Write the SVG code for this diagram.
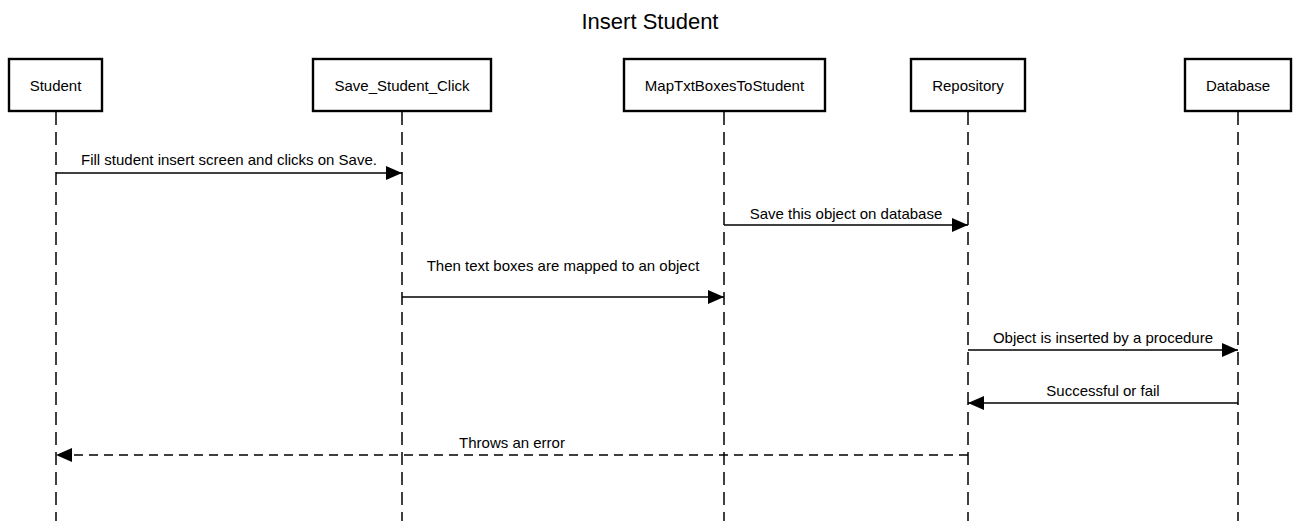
<svg xmlns="http://www.w3.org/2000/svg" width="1300" height="521" viewBox="0 0 1300 521">
<style>
text{font-family:"Liberation Sans",Arial,Helvetica,sans-serif;fill:#000;}
.title{font-size:22px;text-anchor:middle;}
.box{fill:#fff;stroke:#000;stroke-width:2.4;}
.lbl{font-size:15px;text-anchor:middle;}
.life{stroke:#000;stroke-width:1.5;stroke-dasharray:13,7;fill:none;}
.msg{stroke:#000;stroke-width:1.4;fill:none;}
.ret{stroke:#000;stroke-width:1.4;fill:none;stroke-dasharray:9,6;}
.mlbl{font-size:15px;text-anchor:middle;}
</style>
<defs>
<marker id="ah" viewBox="0 0 16 14" refX="16" refY="7" markerWidth="16" markerHeight="14" markerUnits="userSpaceOnUse" orient="auto">
<path d="M0,0 L16,7 L0,14 z" fill="#000"/>
</marker>
</defs>
<rect width="1300" height="521" fill="#fff"/>
<text class="title" x="650" y="29">Insert Student</text>
<g id="lifelines">
<line class="life" x1="56" y1="112" x2="56" y2="521"/>
<line class="life" x1="402" y1="112" x2="402" y2="521"/>
<line class="life" x1="724" y1="112" x2="724" y2="521"/>
<line class="life" x1="968" y1="112" x2="968" y2="521"/>
<line class="life" x1="1238" y1="112" x2="1238" y2="521"/>
</g>
<g id="node-student"><rect class="box" x="9" y="59" width="93" height="52"/><text class="lbl" x="55.5" y="91">Student</text></g>
<g id="node-save"><rect class="box" x="313" y="59" width="178" height="52"/><text class="lbl" x="402" y="91">Save_Student_Click</text></g>
<g id="node-map"><rect class="box" x="624" y="59" width="201" height="52"/><text class="lbl" x="724.5" y="91">MapTxtBoxesToStudent</text></g>
<g id="node-repo"><rect class="box" x="911" y="59" width="114" height="52"/><text class="lbl" x="968" y="91">Repository</text></g>
<g id="node-db"><rect class="box" x="1185" y="59" width="106" height="52"/><text class="lbl" x="1238" y="91">Database</text></g>
<g id="connectors">
<line class="msg" x1="56" y1="173" x2="402" y2="173" marker-end="url(#ah)"/>
<text class="mlbl" x="229" y="165">Fill student insert screen and clicks on Save.</text>
<line class="msg" x1="724" y1="225" x2="968" y2="225" marker-end="url(#ah)"/>
<text class="mlbl" x="846" y="219">Save this object on database</text>
<line class="msg" x1="402" y1="297" x2="724" y2="297" marker-end="url(#ah)"/>
<text class="mlbl" x="563" y="271">Then text boxes are mapped to an object</text>
<line class="msg" x1="968" y1="350" x2="1238" y2="350" marker-end="url(#ah)"/>
<text class="mlbl" x="1103" y="343">Object is inserted by a procedure</text>
<line class="msg" x1="1238" y1="403" x2="968" y2="403" marker-end="url(#ah)"/>
<text class="mlbl" x="1103" y="396">Successful or fail</text>
<line class="ret" x1="968" y1="455" x2="56" y2="455" marker-end="url(#ah)"/>
<text class="mlbl" x="512" y="448">Throws an error</text>
</g>
</svg>
